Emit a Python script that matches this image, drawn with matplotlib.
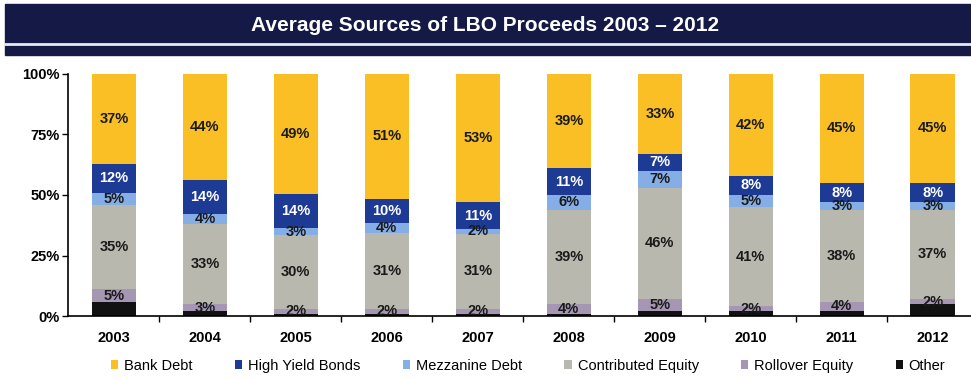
import matplotlib
matplotlib.use("Agg")
import matplotlib.pyplot as plt
from matplotlib.patches import Rectangle
from matplotlib.lines import Line2D
import numpy as np

plt.rcParams["font.family"] = ["Liberation Sans Narrow", "Liberation Sans", "DejaVu Sans"]

years = ["2003", "2004", "2005", "2006", "2007", "2008", "2009", "2010", "2011", "2012"]
series = ["Other", "Rollover Equity", "Contributed Equity", "Mezzanine Debt",
          "High Yield Bonds", "Bank Debt"]
other = [6, 2, 1, 1, 1, 1, 2, 2, 2, 5]
rollover = [5, 3, 2, 2, 2, 4, 5, 2, 4, 2]
contributed = [35, 33, 30, 31, 31, 39, 46, 41, 38, 37]
mezzanine = [5, 4, 3, 4, 2, 6, 7, 5, 3, 3]
high_yield = [12, 14, 14, 10, 11, 11, 7, 8, 8, 8]
bank_debt = [37, 44, 49, 51, 53, 39, 33, 42, 45, 45]

colors = ["#111111", "#a596b4", "#b8b8ae", "#86aee6", "#1d3a94", "#f9bf24"]
text_colors = [None, "#1a1a1a", "#1a1a1a", "#1a1a1a", "white", "#1a1a1a"]
legend_order = [5, 4, 3, 2, 1, 0]

data = np.array([other, rollover, contributed, mezzanine, high_yield, bank_debt], float)
shares = data / data.sum(axis=0) * 100

fig = plt.figure(figsize=(9.71, 3.79), dpi=100)

# title banner
fig.patches.append(Rectangle((0.005, 0.855), 0.995, 0.135, transform=fig.transFigure,
                             color="#141a45", zorder=0))
fig.lines.append(Line2D([0.005, 1.0], [0.885, 0.885], transform=fig.transFigure,
                        color="#e6e9f2", lw=2))
fig.text(0.5, 0.932, "Average Sources of LBO Proceeds 2003 \u2013 2012", color="white",
         ha="center", va="center", fontsize=15, weight="bold")

ax = fig.add_axes([0.070, 0.166, 0.93, 0.639])
x = np.arange(len(years))
w = 0.49
bottom = np.zeros(len(years))
for i, name in enumerate(series):
    ax.bar(x, shares[i], w, bottom=bottom, color=colors[i], label=name, zorder=2)
    if text_colors[i]:
        for j in range(len(years)):
            ax.text(x[j], bottom[j] + shares[i][j] / 2, f"{int(data[i][j])}%",
                    ha="center", va="center", fontsize=10.5, weight="bold",
                    color=text_colors[i])
    bottom += shares[i]

ax.set_xlim(-0.505, 9.42)
ax.set_ylim(0, 100)
ax.set_yticks([0, 25, 50, 75, 100])
ax.set_yticklabels(["0%", "25%", "50%", "75%", "100%"], fontsize=10.5, weight="bold")
ax.set_xticks(x)
ax.set_xticklabels(years, fontsize=10.5, weight="bold")
ax.set_xticks(x[:-1] + 0.5, minor=True)
ax.tick_params(axis="x", which="major", length=0, pad=11)
ax.tick_params(axis="x", which="minor", length=4, direction="out", width=1)
ax.tick_params(axis="y", length=4, width=1, pad=2)
for s in ["top", "right"]:
    ax.spines[s].set_visible(False)
ax.spines["left"].set_linewidth(1.2)
ax.spines["bottom"].set_linewidth(1.2)

handles, labels = ax.get_legend_handles_labels()
handles = [handles[k] for k in legend_order]
labels = [labels[k] for k in legend_order]
fig.legend(handles, labels, loc="center", bbox_to_anchor=(0.544, 0.035), ncol=6,
           frameon=False, fontsize=10.5, handlelength=0.5, handleheight=0.5,
           columnspacing=2.9, handletextpad=0.4)

fig.savefig("out.png", dpi=100)
